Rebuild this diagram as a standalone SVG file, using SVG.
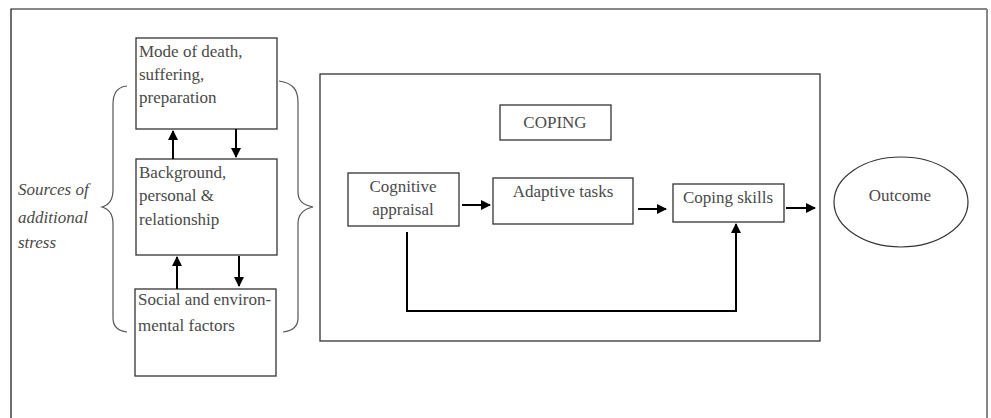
<svg xmlns="http://www.w3.org/2000/svg" width="991" height="418" viewBox="0 0 991 418">
<style>
.box{fill:#fff;stroke:#333;stroke-width:1.3}
.t{font-family:"Liberation Serif","Times New Roman",serif;font-size:17px;fill:#4a4a4a}
.c{text-anchor:middle}
.i{font-style:italic}
.con{fill:none;stroke:#000;stroke-width:2}
.brace{fill:none;stroke:#555;stroke-width:1.2}
</style>
<defs>
<marker id="ah" viewBox="0 0 10 10" refX="9" refY="5" markerWidth="5" markerHeight="5" orient="auto" markerUnits="strokeWidth">
<path d="M0,0 L10,5 L0,10 z" fill="#000"/>
</marker>
</defs>
<rect width="991" height="418" fill="#fff"/>
<g id="frame">
<path d="M11,420 L11,9 L987,9" fill="none" stroke="#111" stroke-width="1.2"/>
<path d="M987,9 L987,420" fill="none" stroke="#888" stroke-width="2"/>
</g>
<g id="sources">
<text class="t i" x="18" y="195">Sources of</text>
<text class="t i" x="18" y="223">additional</text>
<text class="t i" x="18" y="248">stress</text>
<path class="brace" d="M127,86 C117,87 113,93 113,104 L113,190 C113,200 109,205 102,207 C109,209 113,214 113,224 L113,318 C113,327 118,331 127,332"/>
<path class="brace" d="M279,81 C293,83 298,90 298,102 L298,192 C298,201 303,205 313,207 C303,209 298,214 298,224 L298,318 C298,327 292,331 283,332"/>
</g>
<g id="mode">
<rect class="box" x="136" y="38" width="141" height="91"/>
<text class="t" x="139" y="57">Mode of death,</text>
<text class="t" x="139" y="80">suffering,</text>
<text class="t" x="139" y="103">preparation</text>
</g>
<g id="background">
<rect class="box" x="136" y="159" width="141" height="96"/>
<text class="t" x="139" y="178">Background,</text>
<text class="t" x="139" y="201">personal &amp;</text>
<text class="t" x="139" y="225">relationship</text>
</g>
<g id="social">
<rect class="box" x="135" y="289" width="141" height="87"/>
<text class="t" x="138" y="305">Social and environ-</text>
<text class="t" x="138" y="331">mental factors</text>
</g>
<g id="coping-area">
<rect class="box" x="320" y="74" width="500" height="267"/>
</g>
<g id="coping-title">
<rect class="box" x="500" y="105" width="111" height="35"/>
<text class="t c" x="555" y="128">COPING</text>
</g>
<g id="cognitive">
<rect class="box" x="348" y="173" width="111" height="53"/>
<text class="t c" x="403" y="192">Cognitive</text>
<text class="t c" x="403" y="215">appraisal</text>
</g>
<g id="adaptive">
<rect class="box" x="493" y="178" width="140" height="46"/>
<text class="t c" x="563" y="197">Adaptive tasks</text>
</g>
<g id="skills">
<rect class="box" x="673" y="184" width="111" height="38"/>
<text class="t c" x="728" y="203">Coping skills</text>
</g>
<g id="outcome">
<ellipse cx="901" cy="202" rx="67" ry="45" fill="#fff" stroke="#333" stroke-width="1.2"/>
<text class="t c" x="900" y="201">Outcome</text>
</g>
<g id="connectors">
<path class="con" d="M173,159 L173,131" marker-end="url(#ah)"/>
<path class="con" d="M236,129 L236,157" marker-end="url(#ah)"/>
<path class="con" d="M177,289 L177,257" marker-end="url(#ah)"/>
<path class="con" d="M239,256 L239,286" marker-end="url(#ah)"/>
<path class="con" d="M462,205 L490,205" marker-end="url(#ah)"/>
<path class="con" d="M638,209 L666,209" marker-end="url(#ah)"/>
<path class="con" d="M786,208 L815,208" marker-end="url(#ah)"/>
<path class="con" d="M407,232 L407,311 L736,311 L736,224" marker-end="url(#ah)"/>
</g>
</svg>
